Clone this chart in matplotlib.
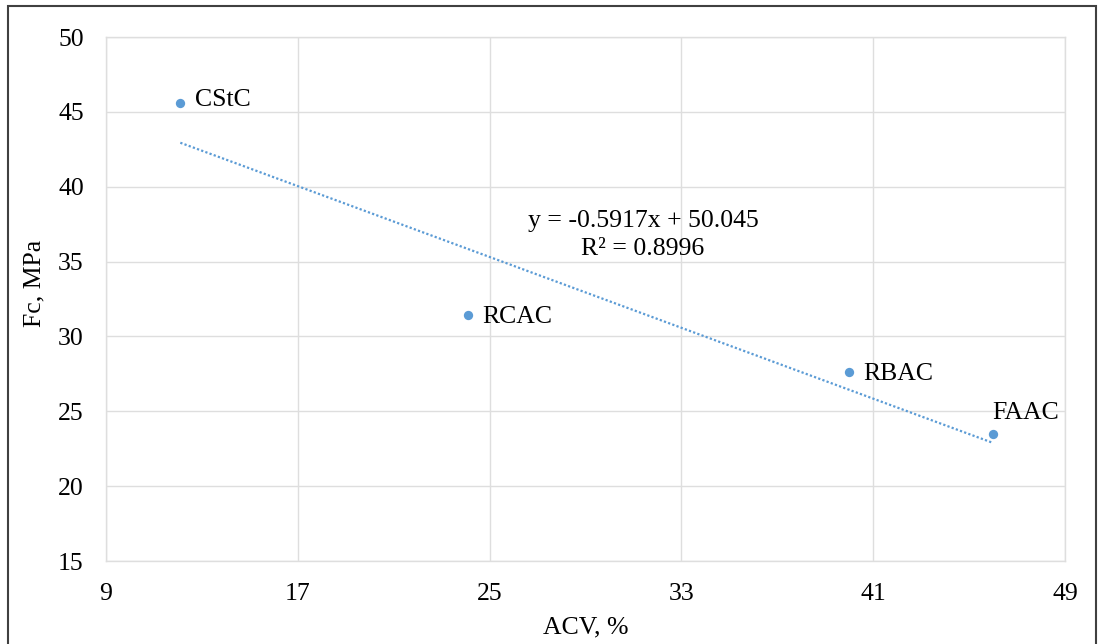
import matplotlib
matplotlib.use("Agg")
import matplotlib.pyplot as plt
import numpy as np
from matplotlib.patches import Rectangle

names = ["CStC", "RCAC", "RBAC", "FAAC"]
acv = [12.1, 24.1, 40.0, 46.0]
fc = [45.6, 31.4, 27.6, 23.5]
x_ticks = [9, 17, 25, 33, 41, 49]
y_ticks = [15, 20, 25, 30, 35, 40, 45, 50]
eq_text = "y = -0.5917x + 50.045\nR² = 0.8996"

plt.rcParams['font.family'] = ['Liberation Serif', 'DejaVu Serif']
W, H = 1098, 644
fig = plt.figure(figsize=(W / 100, H / 100), dpi=100)
ax = fig.add_axes([106 / W, 1 - 561 / H, (1065 - 106) / W, (561 - 37) / H])

blue = '#5B9BD5'
grid = '#dedede'

ax.scatter(acv, fc, s=45, color=blue, zorder=3, linewidths=0)

coef = np.polyfit(acv, fc, 1)
xs = np.array([min(acv), max(acv)])
ax.plot(xs, np.polyval(coef, xs), linestyle=(0, (1, 1)), color=blue, lw=1.6, zorder=2)

offsets = {"CStC": (10.5, 2, 'left', 'center'),
           "RCAC": (10.5, -1, 'left', 'center'),
           "RBAC": (10, -1, 'left', 'center'),
           "FAAC": (-0.5, 7, 'left', 'bottom')}
for n, x, y in zip(names, acv, fc):
    dx, dy, ha, va = offsets[n]
    ax.annotate(n, (x, y), xytext=(dx, dy), textcoords='offset points',
                ha=ha, va=va, fontsize=18.5, color='black')

ax.text(31.4, 36.8, eq_text, ha='center', va='center', fontsize=18.5,
        linespacing=1.35)

ax.set_xlim(9, 49)
ax.set_ylim(15, 50)
ax.set_xticks(x_ticks)
ax.set_yticks(y_ticks)
ax.tick_params(axis='both', length=0, labelsize=18.5, pad=16, colors='black')
ax.grid(True, color=grid, lw=1.0)
for s in ax.spines.values():
    s.set_color(grid)
    s.set_linewidth(1.0)
ax.set_axisbelow(True)

ax.set_xlabel("ACV, %", fontsize=18.5, labelpad=8)
ax.set_ylabel("Fc, MPa", fontsize=18.5, labelpad=10)
ax.yaxis.set_label_coords(-0.063, 0.53)

fig.patches.append(Rectangle((8 / W, -0.05), (1096 - 8) / W, 1.05 - 6 / H,
                             transform=fig.transFigure, fill=False,
                             edgecolor='#404040', lw=1.5))

fig.savefig("out.png", dpi=100)
